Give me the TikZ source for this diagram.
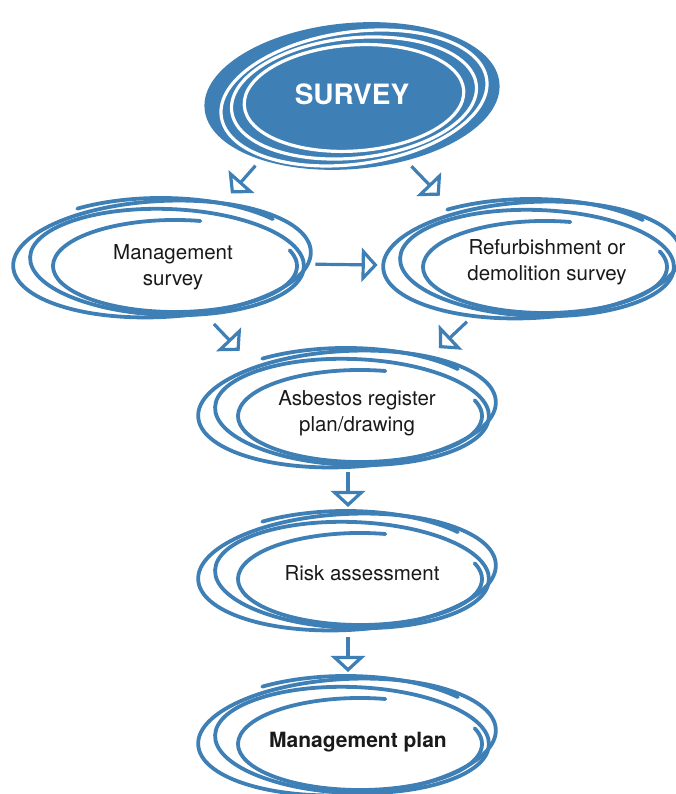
\documentclass[tikz,border=0pt]{standalone}
\usepackage{fontspec}
\setmainfont{TeX Gyre Heros}
\usetikzlibrary{arrows.meta,shapes.geometric,positioning}
\definecolor{sketch-blue}{RGB}{62,127,182}
\tikzset{
    ring-node/.style = {ellipse, minimum width=296pt, minimum height=116pt, inner sep=0pt, outer sep=0pt},
    ring-text/.style = {align=center, text=black!90, font=\fontsize{20.5}{26}\selectfont},
    ring-stroke/.style = {draw=sketch-blue, line width=3.8pt, line cap=round},
    flow-arrow/.style = {draw=sketch-blue, line width=3.2pt, -{Triangle[open, length=16pt, width=34pt]}},
}

\begin{document}
\begin{tikzpicture}[x=1pt, y=1pt]
\useasboundingbox (0,0) rectangle (675,794);

\node[ring-node, minimum height=144pt] (survey) at (352,698) {};
\fill[sketch-blue] (survey) ellipse [x radius=148, y radius=73, rotate=5];
\foreach \rx/\ry/\rot in {110/53/4, 123/60/6, 134/66/8}
    \draw[white, line width=3.2pt] ([shift={(2,-2)}]survey) ellipse [x radius=\rx, y radius=\ry, rotate=\rot];
\node[text=white, font=\bfseries\fontsize{28}{30}\selectfont] (survey-text) at ([yshift=2pt]survey) {SURVEY};

\node[ring-node] (mgmt) at (163,535) {};
\node[ring-node] (refurb) at (533,534) {};
\node[ring-node] (register) at (348,385) {};
\node[ring-node, below=47pt of register] (risk) {};
\node[ring-node, below=49pt of risk] (plan) {};

\foreach \n in {mgmt,refurb,register,risk,plan} {
    \draw[ring-stroke] ([shift={(12,-7)}]\n) ++(78:122 and 46) arc [start angle=78, end angle=380, x radius=122, y radius=46];
    \draw[ring-stroke] ([shift={(4,-3)}]\n) ellipse [x radius=137, y radius=53, rotate=-2];
    \draw[ring-stroke] ([shift={(-1,0)}]\n) ellipse [x radius=149, y radius=58, rotate=3];
    \draw[ring-stroke] ([shift={(-2,2)}]\n) ++(125:146 and 59) arc [start angle=125, end angle=40, x radius=146, y radius=59];
}

\node[ring-text] (mgmt-text) at ([shift={(10,-8)}]mgmt) {Management\\survey};
\node[ring-text] (refurb-text) at ([shift={(14,-2)}]refurb) {Refurbishment or\\demolition survey};
\node[ring-text] (register-text) at ([shift={(9,-4)}]register) {Asbestos register\\plan/drawing};
\node[ring-text] (risk-text) at ([shift={(14,-1)}]risk) {Risk assessment};
\node[ring-text, font=\bfseries\fontsize{21}{26}\selectfont] (plan-text) at ([shift={(10,-5)}]plan) {Management plan};

\draw[flow-arrow, shorten <=15pt, shorten >=16pt] (survey.214) -- (mgmt.43);
\draw[flow-arrow, shorten <=5pt, shorten >=21pt] (survey.310) -- (refurb.148);
\draw[flow-arrow, shorten <=5pt, shorten >=8pt] (mgmt.358) -- (refurb.182);
\draw[flow-arrow, shorten <=13pt, shorten >=19pt] (mgmt.307) -- (register.155);
\draw[flow-arrow, shorten <=12pt, shorten >=17pt] (refurb.223) -- (register.32);
\draw[flow-arrow, shorten <=5pt, shorten >=7pt] (register.south) -- (risk.north);
\draw[flow-arrow, shorten <=7pt, shorten >=7pt] (risk.south) -- (plan.north);
\end{tikzpicture}
\end{document}
